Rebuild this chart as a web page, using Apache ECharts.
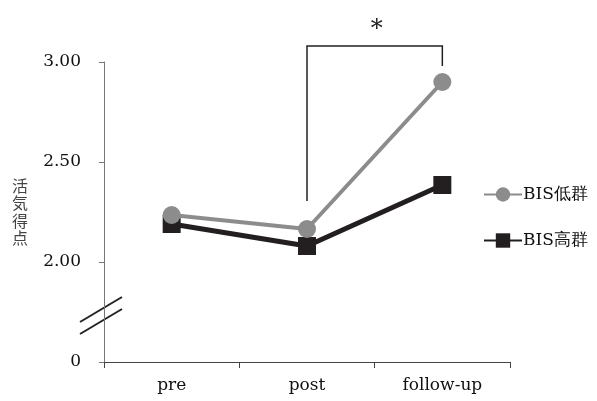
<!DOCTYPE html>
<html>
<head>
<meta charset="utf-8">
<script src="https://cdn.jsdelivr.net/npm/echarts@6/dist/echarts.min.js"></script>
<style>
	html, body { margin: 0; padding: 0; background: #fff; }
	#main { width: 597px; height: 401px; }
</style>
</head>
<body>
<div id="main"></div>
<script>
// 時点
var categories = ['pre', 'post', 'follow-up'];
// 活気得点
var lowBIS = [2.235, 2.165, 2.90];
var highBIS = [2.19, 2.08, 2.385];
// y軸目盛 (1.5 は省略記号の下の "0" として表示)
var yTicks = [1.5, 2.0, 2.5, 3.0];
var yTickLabels = ['0', '2.00', '2.50', '3.00'];
// 有意差ブラケット: [post側下端, 上端, follow-up側下端]
var bracketY = [2.305, 3.08, 2.98];
var bracketX = ['post', 'follow-up'];

var serif = '"DejaVu Serif", "Liberation Serif", serif';
var grayColor = '#8c8c8c';
var blackColor = '#231f20';

var myChart = echarts.init(document.getElementById('main'));

var option = {
	animation: false,
	backgroundColor: '#fff',
	grid: { left: 104, right: 87, top: 62, bottom: 39 },
	legend: {
		orient: 'vertical',
		left: 478,
		top: 181,
		itemGap: 29,
		itemWidth: 38,
		itemHeight: 18,
		textStyle: { fontFamily: serif, fontSize: 17, color: '#111', padding: [0, 0, 0, -4] },
		data: ['BIS低群', 'BIS高群']
	},
	xAxis: {
		type: 'category',
		data: categories,
		boundaryGap: true,
		axisLine: { lineStyle: { color: '#444', width: 1 } },
		axisTick: { show: true, length: 6, lineStyle: { color: '#444' } },
		axisLabel: { fontFamily: serif, fontSize: 17, color: '#111', margin: 15 }
	},
	yAxis: {
		type: 'value',
		min: 1.5,
		max: 3.0,
		interval: 0.5,
		name: '活\n気\n得\n点',
		nameLocation: 'middle',
		nameRotate: 0,
		nameGap: 76,
		nameTextStyle: {
			fontFamily: '"Noto Sans CJK JP", sans-serif',
			fontSize: 16, color: '#444', lineHeight: 17.5,
			padding: [0, 0, 36, 0]
		},
		splitLine: { show: false },
		axisLine: { show: true, lineStyle: { color: '#777', width: 1 } },
		axisTick: { show: true, length: 5, lineStyle: { color: '#777' } },
		axisLabel: {
			fontFamily: serif, fontSize: 17, color: '#111', margin: 23,
			formatter: function (v) {
				var i = yTicks.indexOf(v);
				return i >= 0 ? yTickLabels[i] : '';
			}
		}
	},
	series: [
		{
			name: 'BIS低群',
			type: 'line',
			data: lowBIS,
			symbol: 'circle',
			symbolSize: 18,
			itemStyle: { color: grayColor },
			lineStyle: { color: grayColor, width: 4 },
			z: 3
		},
		{
			name: 'BIS高群',
			type: 'line',
			data: highBIS,
			symbol: 'rect',
			symbolSize: 18,
			itemStyle: { color: blackColor },
			lineStyle: { color: blackColor, width: 5 },
			z: 2
		}
	]
};

myChart.setOption(option);

// 省略記号とブラケットはスケールから位置を求めて描く
var pBase = myChart.convertToPixel({ gridIndex: 0 }, [0, 1.5]);
var p20 = myChart.convertToPixel({ gridIndex: 0 }, [0, 2.0]);
var axisX = myChart.getModel().getComponent('grid').coordinateSystem.getRect().x;
var breakMid = (pBase[1] + p20[1]) / 2 + 2;

var bl = myChart.convertToPixel({ gridIndex: 0 }, [bracketX[0], bracketY[0]]);
var bt = myChart.convertToPixel({ gridIndex: 0 }, [bracketX[0], bracketY[1]]);
var br = myChart.convertToPixel({ gridIndex: 0 }, [bracketX[1], bracketY[2]]);

myChart.setOption({
	graphic: [
		{
			type: 'line',
			shape: { x1: axisX - 24, y1: breakMid + 8, x2: axisX + 18, y2: breakMid - 17 },
			style: { stroke: '#222', lineWidth: 2 }
		},
		{
			type: 'line',
			shape: { x1: axisX - 24, y1: breakMid + 20, x2: axisX + 18, y2: breakMid - 5 },
			style: { stroke: '#222', lineWidth: 2 }
		},
		{
			type: 'polyline',
			shape: { points: [[bl[0], bl[1]], [bt[0], bt[1]], [br[0], bt[1]], [br[0], br[1]]] },
			style: { stroke: '#222', lineWidth: 1.5, fill: null }
		},
		{
			type: 'text',
			style: {
				text: '*',
				x: (bl[0] + br[0]) / 2 + 2,
				y: bt[1] - 4,
				align: 'center',
				verticalAlign: 'bottom',
				font: '24px ' + serif,
				fill: '#222'
			}
		}
	]
});
</script>
</body>
</html>
